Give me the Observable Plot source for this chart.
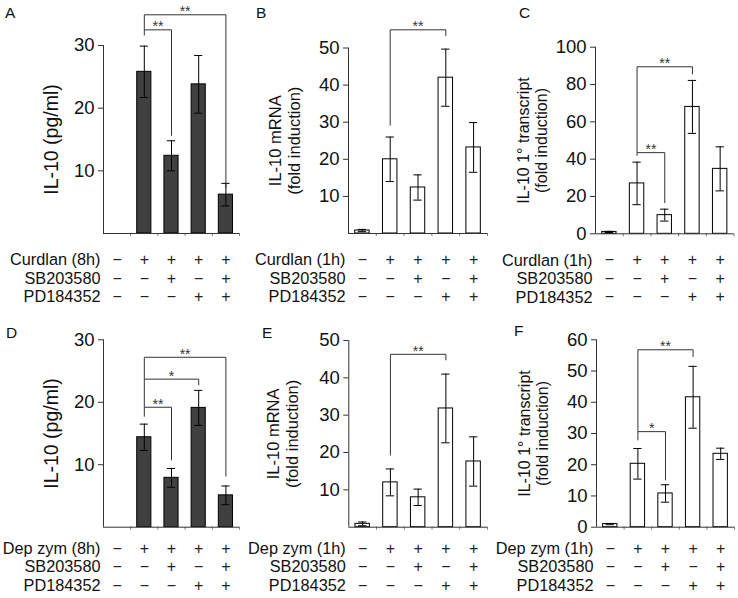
<!DOCTYPE html>
<html><head><meta charset="utf-8">
<script src="https://cdn.jsdelivr.net/npm/d3@7"></script>
<script src="https://cdn.jsdelivr.net/npm/@observablehq/plot@0.6"></script>
<style>
body{margin:0;background:#fff;}
#fig{position:relative;width:738px;height:598px;font-family:"Liberation Sans",Arial,sans-serif;background:#fff;overflow:hidden;}
.panel{position:absolute;}
.letter{position:absolute;font-size:15.5px;line-height:1;color:#111;}
</style></head><body><div id="fig"></div>
<script>
// ---- data ----
const conditions = [0, 1, 2, 3, 4];
const agonistRow = ["−", "+", "+", "+", "+"];
const sbRow = ["−", "−", "+", "−", "+"];
const pdRow = ["−", "−", "−", "+", "+"];
const inhibitorLabels = ["SB203580", "PD184352"];

const valuesA = [0, 25.8, 12.4, 23.8, 6.2];
const errorsA = [0, 4.1, 2.4, 4.6, 1.8];
const ticksA = [10, 20, 30];
const bracketsA = [
  {from: 1, to: 4, y: 34.9, yFrom: 32.5, yTo: 7.3, label: "**"},
  {from: 1, to: 2, y: 32.5, yFrom: 31.6, yTo: 15.6, label: "**"}
];

const valuesB = [0.8, 20.0, 12.4, 42.0, 23.2];
const errorsB = [0.3, 6.0, 3.4, 7.7, 6.7];
const ticksB = [10, 20, 30, 40, 50];
const bracketsB = [
  {from: 1, to: 3, y: 54.9, yFrom: 29.1, yTo: 53.2, label: "**"}
];

const valuesC = [1.0, 27.0, 10.0, 68.0, 34.8];
const errorsC = [0.3, 11.4, 3.2, 14.2, 11.8];
const ticksC = [0, 20, 40, 60, 80, 100];
const bracketsC = [
  {from: 1, to: 3, y: 89.5, yFrom: 43.5, yTo: 85.5, label: "**"},
  {from: 1, to: 2, y: 43.5, yFrom: 41.8, yTo: 16.5, label: "**"}
];

const valuesD = [0, 14.4, 7.9, 19.1, 5.1];
const errorsD = [0, 2.1, 1.5, 2.8, 1.5];
const ticksD = [10, 20, 30];
const bracketsD = [
  {from: 1, to: 4, y: 27.2, yFrom: 23.7, yTo: 8.1, label: "**"},
  {from: 1, to: 3, y: 23.7, yFrom: 19.2, yTo: 22.7, label: "*"},
  {from: 1, to: 2, y: 19.2, yFrom: 17.7, yTo: 10.7, label: "**"}
];

const valuesE = [0.9, 12.0, 8.0, 31.8, 17.6];
const errorsE = [0.5, 3.6, 2.2, 9.2, 6.6];
const ticksE = [10, 20, 30, 40, 50];
const bracketsE = [
  {from: 1, to: 3, y: 46.3, yFrom: 19.2, yTo: 44.7, label: "**"}
];

const valuesF = [1.0, 20.3, 10.8, 41.6, 23.5];
const errorsF = [0.2, 4.9, 2.8, 9.9, 1.8];
const ticksF = [0, 10, 20, 30, 40, 50, 60];
const bracketsF = [
  {from: 1, to: 3, y: 56.8, yFrom: 30.6, yTo: 54.5, label: "**"},
  {from: 1, to: 2, y: 30.6, yFrom: 27.8, yTo: 15.0, label: "*"}
];

// ---- panels ----
const panels = [
  {letter: "A", lx: 5, ly: 5, left: 0, top: 0, width: 245, ml: 103, mr: 6, mt: 45, mb: 66, ymax: 30,
   values: valuesA, errors: errorsA, ticks: ticksA, brackets: bracketsA, fill: "#404040",
   title: "IL-10 (pg/ml)", titleSize: 19.5, titleDx: -53, agonist: "Curdlan (8h)", rowDy: [26.5, 45, 63.5]},
  {letter: "B", lx: 256, ly: 5, left: 245, top: 0, width: 245, ml: 103, mr: 3, mt: 47.5, mb: 66, ymax: 50,
   values: valuesB, errors: errorsB, ticks: ticksB, brackets: bracketsB, fill: "white",
   title: "IL-10 mRNA\n(fold induction)", titleSize: 16.5, titleDx: -64, agonist: "Curdlan (1h)", rowDy: [26.5, 45, 63.5]},
  {letter: "C", lx: 519, ly: 5, left: 490, top: 0, width: 248, ml: 105, mr: 4.5, mt: 46.7, mb: 65.7, ymax: 100,
   values: valuesC, errors: errorsC, ticks: ticksC, brackets: bracketsC, fill: "white",
   title: "IL-10 1° transcript\n(fold induction)", titleSize: 16, titleDx: -63, agonist: "Curdlan (1h)", rowDy: [26.5, 45, 63.5]},
  {letter: "D", lx: 6, ly: 325, left: 0, top: 299, width: 245, ml: 103, mr: 6, mt: 40.3, mb: 71.3, ymax: 30,
   values: valuesD, errors: errorsD, ticks: ticksD, brackets: bracketsD, fill: "#404040",
   title: "IL-10 (pg/ml)", titleSize: 19.5, titleDx: -53, agonist: "Dep zym (8h)", rowDy: [21.6, 40, 58.7]},
  {letter: "E", lx: 262, ly: 325, left: 245, top: 299, width: 245, ml: 103.3, mr: 3, mt: 41, mb: 71.3, ymax: 50,
   values: valuesE, errors: errorsE, ticks: ticksE, brackets: bracketsE, fill: "white",
   title: "IL-10 mRNA\n(fold induction)", titleSize: 16.5, titleDx: -66, agonist: "Dep zym (1h)", rowDy: [21.6, 40, 58.7]},
  {letter: "F", lx: 514, ly: 323, left: 490, top: 299, width: 248, ml: 106, mr: 4, mt: 40.3, mb: 71.3, ymax: 60,
   values: valuesF, errors: errorsF, ticks: ticksF, brackets: bracketsF, fill: "white",
   title: "IL-10 1° transcript\n(fold induction)", titleSize: 16, titleDx: -63, agonist: "Dep zym (1h)", rowDy: [21.6, 40, 58.7]}
];

const fig = document.getElementById("fig");
const hw = 0.26, cap = 0.15;
const ink = "#333";

for (const p of panels) {
  const bars = conditions.map(i => ({i, v: p.values[i], e: p.errors[i]})).filter(d => d.v > 0);
  const segs = [];
  for (const b of p.brackets) {
    segs.push({x1: b.from, x2: b.to, y1: b.y, y2: b.y});
    segs.push({x1: b.from, x2: b.from, y1: b.y, y2: b.yFrom});
    segs.push({x1: b.to, x2: b.to, y1: b.y, y2: b.yTo});
  }
  const rowLabels = [p.agonist, ...inhibitorLabels];
  const rows = [agonistRow, sbRow, pdRow];
  const marks = [
    Plot.axisY({ticks: p.ticks, tickSize: 5, tickPadding: 4, label: null, fontSize: 18.5, tickFormat: d => String(d), stroke: ink, fill: "#111"}),
    Plot.axisX({ticks: [0.5, 1.5, 2.5, 3.5, 4.5], tickSize: 3, tickFormat: () => "", label: null, stroke: "#777"}),
    Plot.rect(bars, {x1: d => d.i - hw, x2: d => d.i + hw, y1: () => 0, y2: "v", fill: p.fill, stroke: "black", strokeWidth: 1}),
    Plot.ruleX(bars, {x: "i", y1: d => d.v - d.e, y2: d => d.v + d.e, stroke: "black"}),
    Plot.ruleY(bars, {y: d => d.v + d.e, x1: d => d.i - cap, x2: d => d.i + cap, stroke: "black"}),
    Plot.ruleY(bars, {y: d => d.v - d.e, x1: d => d.i - cap, x2: d => d.i + cap, stroke: "black"}),
    Plot.ruleY([0], {stroke: ink}),
    Plot.ruleX([-0.5], {stroke: ink}),
    Plot.link(segs, {x1: "x1", x2: "x2", y1: "y1", y2: "y2", stroke: ink, strokeWidth: 1}),
    Plot.text(p.brackets, {x: d => (d.from + d.to) / 2, y: "y", text: "label", dy: -3, fontSize: 14, fill: ink, lineAnchor: "middle"}),
    Plot.text([p.title], {text: d => d, frameAnchor: "left", dx: p.titleDx, rotate: -90, textAnchor: "middle", lineAnchor: "middle", fontSize: p.titleSize, lineHeight: 1.12, fill: "#111"})
  ];
  rows.forEach((row, r) => {
    marks.push(Plot.text(conditions, {x: d => d, y: () => 0, text: d => row[d], dy: p.rowDy[r], fontSize: 16, lineAnchor: "middle", fill: "#222"}));
    marks.push(Plot.text([rowLabels[r]], {text: d => d, frameAnchor: "bottom-left", dx: -3, dy: p.rowDy[r], textAnchor: "end", lineAnchor: "middle", fontSize: 16.3, fill: "#111"}));
  });
  const chart = Plot.plot({
    width: p.width, height: 299,
    marginLeft: p.ml, marginRight: p.mr, marginTop: p.mt, marginBottom: p.mb,
    x: {type: "linear", domain: [-0.5, 4.5]},
    y: {type: "linear", domain: [0, p.ymax]},
    style: {fontFamily: "'Liberation Sans', Arial, sans-serif", color: "#222", background: "transparent", overflow: "visible"},
    marks
  });
  const wrap = document.createElement("div");
  wrap.className = "panel";
  wrap.style.left = p.left + "px";
  wrap.style.top = p.top + "px";
  wrap.appendChild(chart);
  fig.appendChild(wrap);
  const letter = document.createElement("div");
  letter.className = "letter";
  letter.textContent = p.letter;
  letter.style.left = p.lx + "px";
  letter.style.top = p.ly + "px";
  fig.appendChild(letter);
}
</script></body></html>
